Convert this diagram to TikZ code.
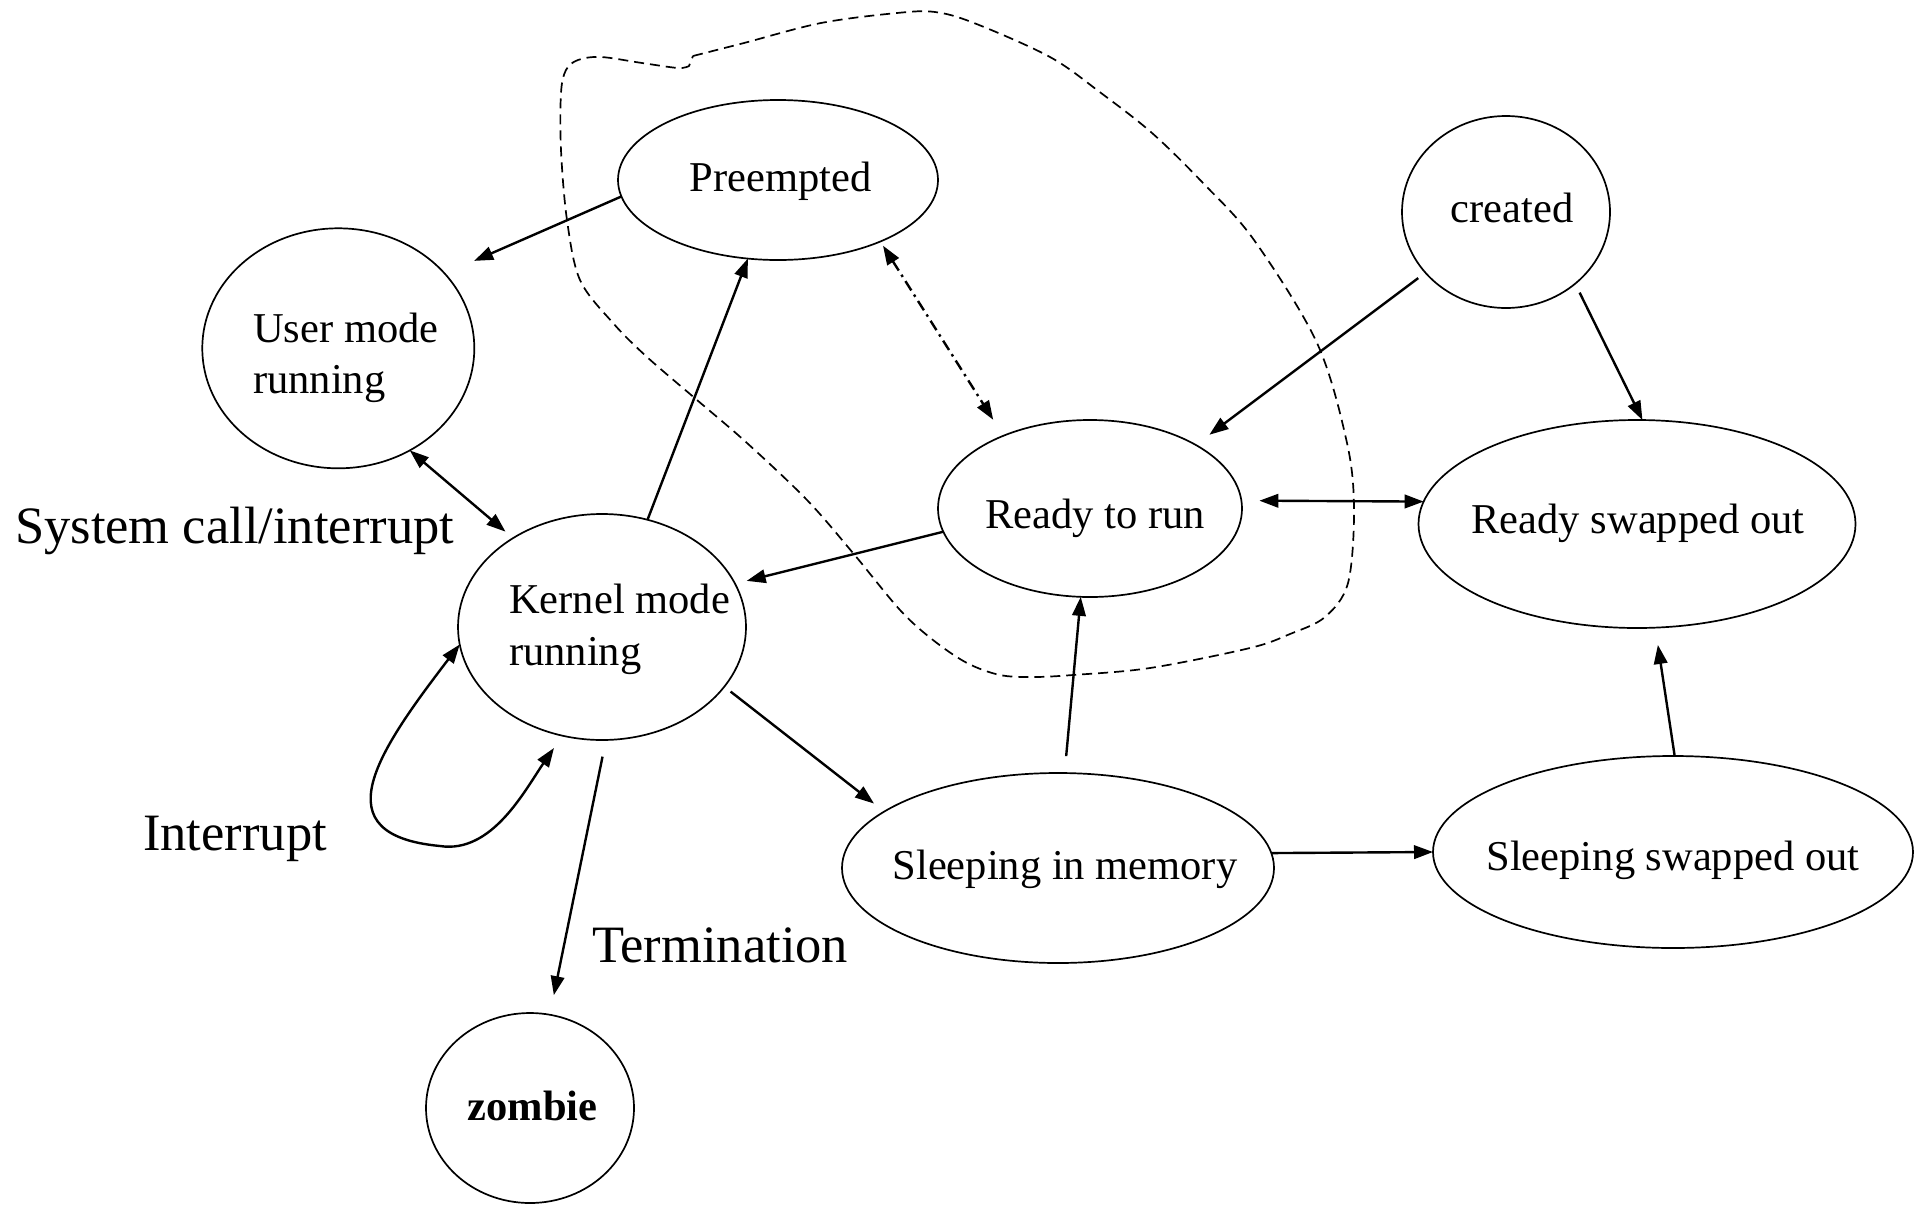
\documentclass[tikz,border=0pt]{standalone}
\usepackage{fontspec}
\setmainfont{Liberation Serif}
\usetikzlibrary{shapes.geometric,arrows.meta}
\tikzset{
  st/.style={draw, ellipse, line width=1.7pt, inner sep=0pt, outer sep=0pt},
  txt/.style={font=\fontsize{42.5}{51.7}\selectfont, inner sep=0pt},
  lbl/.style={font=\fontsize{52.5}{63}\selectfont, inner sep=0pt, anchor=base west},
  tip/.tip={Triangle[length=19pt,width=13.5pt]},
  conn/.style={line width=2.4pt, -tip},
  bconn/.style={line width=2.4pt, tip-tip},
  dashdot/.style={dash pattern=on 11pt off 5pt on 2.5pt off 5pt},
  blob/.style={line width=1.7pt, dash pattern=on 10pt off 6pt},
}
\begin{document}
\begin{tikzpicture}[x=1pt,y=-1pt]
\useasboundingbox (0,0) rectangle (1917,1205);

% states
\node[st, minimum width=320pt, minimum height=160pt] (pre)  at (778,180) {};
\node[st, minimum width=272pt, minimum height=240pt] (user) at (338.3,348.3) {};
\node[st, minimum width=288pt, minimum height=226pt] (kern) at (602,627) {};
\node[st, minimum width=208pt, minimum height=192pt] (crt)  at (1506,212) {};
\node[st, minimum width=304pt, minimum height=177pt] (rtr)  at (1090,508.5) {};
\node[st, minimum width=437pt, minimum height=208pt] (rso)  at (1637,524) {};
\node[st, minimum width=432pt, minimum height=190pt] (sim)  at (1058,868) {};
\node[st, minimum width=480pt, minimum height=192pt] (sso)  at (1673,852) {};
\node[st, minimum width=208pt, minimum height=190pt] (zom)  at (530,1108) {};

% state texts
\node[txt, anchor=base] (pre-t) at (780.5,191.7) {Preempted};
\node[txt, anchor=west, align=left] (user-t) at (253,357.7) {User mode\\running};
\node[txt, anchor=west, align=left] (kern-t) at (509,629) {Kernel mode\\running};
\node[txt, anchor=base] (crt-t) at (1512,222) {created};
\node[txt, anchor=base] (rtr-t) at (1095,528) {Ready to run};
\node[txt, anchor=base] (rso-t) at (1638,533) {Ready swapped out};
\node[txt, anchor=base] (sim-t) at (1065,879) {Sleeping in memory};
\node[txt, anchor=base] (sso-t) at (1673,870) {Sleeping swapped out};
\node[txt, anchor=base, font=\fontsize{42.5}{51.7}\selectfont\bfseries] (zom-t) at (532.5,1120) {zombie};

% free labels
\node[lbl] (l-sys)  at (15,543) {System call/interrupt};
\node[lbl] (l-int)  at (143,850) {Interrupt};
\node[lbl] (l-term) at (592,962) {Termination};

% connectors
\draw[conn, shorten >=32pt] (pre.186) -- (user.35);
\draw[bconn, shorten >=10pt] (user.305) -- (kern.135);
\draw[conn] (kern.67) -- (pre.249);
\draw[bconn, dashdot, shorten <=5pt, shorten >=19pt] (pre.329) -- (rtr.140);
\draw[conn, shorten >=12pt] (rtr.189) -- (kern.18);
\draw[conn, shorten <=8pt, shorten >=13pt] (kern.334) -- (sim.162);
\draw[conn, shorten <=17pt] (sim.86) -- (rtr.264);
\draw[conn, shorten <=9pt, shorten >=17pt] (crt.217) -- (rtr.31);
\draw[bconn, shorten <=18pt] (rtr.3) -- (rso.174);
\draw[conn, shorten <=10pt] (crt.314) -- (rso.87);
\draw[conn] (sim.4) -- (sso.180);
\draw[conn, shorten >=17.5pt] (sso.89) -- (rso.280);
\draw[conn, shorten <=17pt, shorten >=20pt] (kern.272) -- (zom.78);
% self loop (interrupt)
\draw[bconn, shorten >=15pt] (kern.187) .. controls (375,755) and (322,835) .. (440,846)
      .. controls (492,854) and (525,790) .. (kern.250);

% dashed boundary
\draw[blob] plot[smooth, tension=0.55] coordinates {
  (693,56) (744,43) (821,23) (897,13) (935,12) (974,23) (1050,57) (1101,93)
  (1152,133) (1203,183) (1254,240) (1317,343) (1347,443) (1354,510) (1348,583)
  (1325,617) (1290,634) (1250,648) (1150,668) (1073,675) (1033,677) (1000,675)
  (967,663) (933,640) (900,610) (853,553) (807,500) (747,443) (697,400)
  (647,357) (613,323) (580,280) (567,220) (561,150) (561,93) (566,70) (578,60)
  (601,57) (642,63) (678,68) (689,66)} -- cycle;
\end{tikzpicture}
\end{document}
